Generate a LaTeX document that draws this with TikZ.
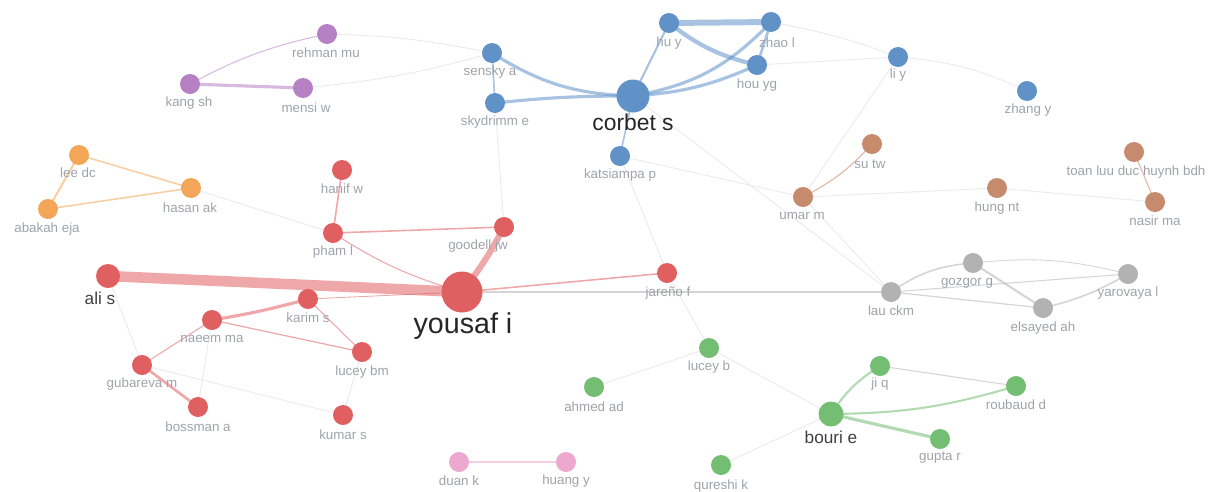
\documentclass[tikz,border=0pt]{standalone}
\usepackage{fontspec}
\setmainfont{Liberation Sans}
\pgfdeclarelayer{bg}
\pgfsetlayers{bg,main}
\definecolor{cred}{RGB}{224,96,98}
\definecolor{cblue}{RGB}{96,146,200}
\definecolor{cpurple}{RGB}{182,128,196}
\definecolor{corange}{RGB}{243,166,88}
\definecolor{cbrown}{RGB}{198,138,108}
\definecolor{cgray}{RGB}{178,178,178}
\definecolor{cgreen}{RGB}{116,190,116}
\definecolor{cpink}{RGB}{236,168,206}
\definecolor{labgray}{RGB}{160,162,170}
\definecolor{faint}{RGB}{234,234,237}
\tikzset{
  au/.style={circle,inner sep=0pt,minimum size=0.40cm,fill=#1},
  lb/.style={font=\fontsize{7.6}{8}\selectfont,text=labgray,inner sep=0pt},
  mid/.style={font=\fontsize{9.8}{10}\selectfont,text=black!75,inner sep=0pt},
  big/.style={font=\fontsize{13}{14}\selectfont,text=black!85,inner sep=0pt},
  huge/.style={font=\fontsize{16.3}{17}\selectfont,text=black!85,inner sep=0pt},
  ed/.style={draw=#1,opacity=0.55,line width=0.6pt},
  fe/.style={draw=faint,line width=0.5pt},
}
\begin{document}
\begin{tikzpicture}[x=0.02cm,y=-0.02cm]
\useasboundingbox (0,0) rectangle (1209,491);
% ---- blue
\node[au=cblue,minimum size=0.66cm] (corbet) at (633,96) {};
\node[au=cblue] (sensky) at (492,53) {};
\node[au=cblue] (skyd) at (495,103) {};
\node[au=cblue] (kats) at (620,156) {};
\node[au=cblue] (huy) at (669,23) {};
\node[au=cblue] (zhao) at (771,22) {};
\node[au=cblue] (houyg) at (757,65) {};
\node[au=cblue] (liy) at (898,57) {};
\node[au=cblue] (zhangy) at (1027,91) {};
% ---- purple
\node[au=cpurple] (rehman) at (327,34) {};
\node[au=cpurple] (kang) at (190,84) {};
\node[au=cpurple] (mensi) at (303,88) {};
% ---- orange
\node[au=corange] (lee) at (79,155) {};
\node[au=corange] (hasan) at (191,188) {};
\node[au=corange] (abakah) at (48,209) {};
% ---- red
\node[au=cred,minimum size=0.82cm] (yousaf) at (462,292) {};
\node[au=cred,minimum size=0.48cm] (ali) at (108,276) {};
\node[au=cred] (hanif) at (342,170) {};
\node[au=cred] (pham) at (333,233) {};
\node[au=cred] (goodell) at (504,227) {};
\node[au=cred] (jareno) at (667,273) {};
\node[au=cred] (karim) at (308,299) {};
\node[au=cred] (naeem) at (212,320) {};
\node[au=cred] (luceybm) at (362,352) {};
\node[au=cred] (gubareva) at (142,365) {};
\node[au=cred] (bossman) at (198,407) {};
\node[au=cred] (kumar) at (343,415) {};
% ---- brown
\node[au=cbrown] (sutw) at (872,144) {};
\node[au=cbrown] (umar) at (803,197) {};
\node[au=cbrown] (hung) at (997,188) {};
\node[au=cbrown] (toan) at (1134,152) {};
\node[au=cbrown] (nasir) at (1155,202) {};
% ---- gray
\node[au=cgray] (gozgor) at (973,263) {};
\node[au=cgray] (lau) at (891,292) {};
\node[au=cgray] (elsayed) at (1043,308) {};
\node[au=cgray] (yarovaya) at (1128,274) {};
% ---- green
\node[au=cgreen] (luceyb) at (709,348) {};
\node[au=cgreen] (ahmed) at (594,387) {};
\node[au=cgreen] (jiq) at (880,366) {};
\node[au=cgreen] (roubaud) at (1016,386) {};
\node[au=cgreen,minimum size=0.5cm] (bouri) at (831,414) {};
\node[au=cgreen] (gupta) at (940,439) {};
\node[au=cgreen] (qureshi) at (721,465) {};
% ---- pink
\node[au=cpink] (duan) at (459,462) {};
\node[au=cpink] (huang) at (566,462) {};

% ---- labels
\node[big] (corbet-l) at (633,122) {corbet s};
\node[lb] (sensky-l) at (490,72) {sensky a};
\node[lb] (skyd-l) at (495,122) {skydrimm e};
\node[lb] (kats-l) at (620,175) {katsiampa p};
\node[lb] (huy-l) at (669,43) {hu y};
\node[lb] (zhao-l) at (777,43) {zhao l};
\node[lb] (houyg-l) at (757,85) {hou yg};
\node[lb] (liy-l) at (898,75) {li y};
\node[lb] (zhangy-l) at (1028,110) {zhang y};
\node[lb] (rehman-l) at (326,53) {rehman mu};
\node[lb] (kang-l) at (189,103) {kang sh};
\node[lb] (mensi-l) at (306,108) {mensi w};
\node[lb] (lee-l) at (78,173) {lee dc};
\node[lb] (hasan-l) at (190,208) {hasan ak};
\node[lb] (abakah-l) at (47,229) {abakah eja};
\node[huge] (yousaf-l) at (463,326) {yousaf i};
\node[mid] (ali-l) at (100,298) {ali s};
\node[lb] (hanif-l) at (342,189) {hanif w};
\node[lb] (pham-l) at (333,252) {pham l};
\node[lb] (goodell-l) at (478,246) {goodell jw};
\node[lb] (jareno-l) at (668,293) {jareño f};
\node[lb] (karim-l) at (308,318) {karim s};
\node[lb] (naeem-l) at (212,339) {naeem ma};
\node[lb] (luceybm-l) at (362,372) {lucey bm};
\node[lb] (gubareva-l) at (142,384) {gubareva m};
\node[lb] (bossman-l) at (198,427) {bossman a};
\node[lb] (kumar-l) at (343,435) {kumar s};
\node[lb] (sutw-l) at (870,164) {su tw};
\node[lb] (umar-l) at (802,216) {umar m};
\node[lb] (hung-l) at (997,208) {hung nt};
\node[lb] (toan-l) at (1136,172) {toan luu duc huynh bdh};
\node[lb] (nasir-l) at (1155,221) {nasir ma};
\node[lb] (gozgor-l) at (967,283) {gozgor g};
\node[lb] (lau-l) at (891,311) {lau ckm};
\node[lb] (elsayed-l) at (1043,328) {elsayed ah};
\node[lb] (yarovaya-l) at (1128,293) {yarovaya l};
\node[lb] (luceyb-l) at (709,367) {lucey b};
\node[lb] (ahmed-l) at (594,407) {ahmed ad};
\node[lb] (jiq-l) at (880,384) {ji q};
\node[lb] (roubaud-l) at (1016,405) {roubaud d};
\node[mid] (bouri-l) at (831,437) {bouri e};
\node[lb] (gupta-l) at (940,458) {gupta r};
\node[lb] (qureshi-l) at (721,486) {qureshi k};
\node[lb] (duan-l) at (459,481) {duan k};
\node[lb] (huang-l) at (566,481) {huang y};

\begin{pgfonlayer}{bg}
% faint background links
\draw[fe] (sensky.center) to[bend left=5] (mensi.center);
\draw[fe] (rehman.center) to[bend left=5] (sensky.center);
\draw[fe] (zhao.center) to[bend left=5] (liy.center);
\draw[fe] (houyg.center) -- (liy.center);
\draw[fe] (liy.center) to[bend left=10] (zhangy.center);
\draw[fe] (liy.center) -- (umar.center);
\draw[fe] (corbet.center) -- (lau.center);
\draw[fe] (kats.center) -- (umar.center);
\draw[fe] (skyd.center) -- (goodell.center);
\draw[fe] (jareno.center) -- (luceyb.center);
\draw[fe] (jareno.center) -- (kats.center);
\draw[fe] (ahmed.center) -- (luceyb.center);
\draw[fe] (luceyb.center) -- (bouri.center);
\draw[fe] (qureshi.center) -- (bouri.center);
\draw[fe] (luceybm.center) -- (kumar.center);
\draw[fe] (gubareva.center) -- (kumar.center);
\draw[fe] (ali.center) -- (gubareva.center);
\draw[fe] (naeem.center) -- (bossman.center);
\draw[fe] (umar.center) -- (hung.center);
\draw[fe] (hung.center) -- (nasir.center);
\draw[fe] (umar.center) -- (lau.center);
\draw[fe] (hasan.center) -- (pham.center);
% blue
\draw[ed=cblue,line width=1.8pt] (sensky.center) to[bend right=15] (corbet.center);
\draw[ed=cblue,line width=1.8pt] (skyd.center) to[bend left=3] (corbet.center);
\draw[ed=cblue,line width=0.9pt] (sensky.center) -- (skyd.center);
\draw[ed=cblue,line width=1.2pt] (corbet.center) -- (huy.center);
\draw[ed=cblue,line width=1.8pt] (corbet.center) to[bend right=18] (zhao.center);
\draw[ed=cblue,line width=1.8pt] (corbet.center) to[bend right=10] (houyg.center);
\draw[ed=cblue,line width=3.4pt] (huy.center) -- (zhao.center);
\draw[ed=cblue,line width=2.4pt] (huy.center) to[bend right=12] (houyg.center);
\draw[ed=cblue,line width=1.5pt] (zhao.center) -- (houyg.center);
\draw[ed=cblue,line width=0.9pt] (corbet.center) -- (kats.center);
% purple
\draw[ed=cpurple,line width=1.8pt] (kang.center) -- (mensi.center);
\draw[ed=cpurple,line width=0.6pt] (kang.center) to[bend left=8] (rehman.center);
% orange
\draw[ed=corange,line width=0.9pt] (lee.center) -- (hasan.center);
\draw[ed=corange,line width=1.2pt] (lee.center) -- (abakah.center);
\draw[ed=corange,line width=0.9pt] (abakah.center) -- (hasan.center);
% red
\draw[ed=cred,line width=6pt] (ali.center) -- (yousaf.center);
\draw[ed=cred,line width=3.5pt] (yousaf.center) to[bend right=5] (goodell.center);
\draw[ed=cred,line width=0.9pt] (yousaf.center) -- (jareno.center);
\draw[ed=cred,line width=0.6pt] (yousaf.center) to[bend left=8] (pham.center);
\draw[ed=cred,line width=0.9pt] (pham.center) -- (goodell.center);
\draw[ed=cred,line width=0.9pt] (hanif.center) -- (pham.center);
\draw[ed=cred,line width=1.8pt] (karim.center) to[bend left=3] (naeem.center);
\draw[ed=cred,line width=0.5pt] (karim.center) -- (yousaf.center);
\draw[ed=cred,line width=0.6pt] (karim.center) -- (luceybm.center);
\draw[ed=cred,line width=0.7pt] (naeem.center) -- (luceybm.center);
\draw[ed=cred,line width=0.6pt] (naeem.center) -- (gubareva.center);
\draw[ed=cred,line width=1.5pt] (gubareva.center) -- (bossman.center);
\draw[ed=cgray,line width=0.7pt] (yousaf.center) -- (lau.center);
% gray
\draw[ed=cgray,line width=0.9pt] (lau.center) to[bend left=15] (gozgor.center);
\draw[ed=cgray,line width=0.7pt] (lau.center) -- (elsayed.center);
\draw[ed=cgray,line width=1.2pt] (gozgor.center) -- (elsayed.center);
\draw[ed=cgray,line width=0.6pt] (lau.center) -- (yarovaya.center);
\draw[ed=cgray,line width=0.9pt] (elsayed.center) to[bend right=8] (yarovaya.center);
\draw[ed=cgray,line width=0.5pt] (gozgor.center) to[bend left=10] (yarovaya.center);
% brown
\draw[ed=cbrown,line width=0.7pt] (umar.center) to[bend right=10] (sutw.center);
\draw[ed=cbrown,line width=0.7pt] (toan.center) -- (nasir.center);
% green
\draw[ed=cgreen,line width=1.2pt] (bouri.center) to[bend left=12] (jiq.center);
\draw[ed=cgreen,line width=1.2pt] (bouri.center) to[bend right=8] (roubaud.center);
\draw[ed=cgreen,line width=1.8pt] (bouri.center) -- (gupta.center);
\draw[ed=cgray,line width=0.6pt] (jiq.center) -- (roubaud.center);
% pink
\draw[ed=cpink,line width=1.2pt] (duan.center) -- (huang.center);
\end{pgfonlayer}
\end{tikzpicture}
\end{document}
